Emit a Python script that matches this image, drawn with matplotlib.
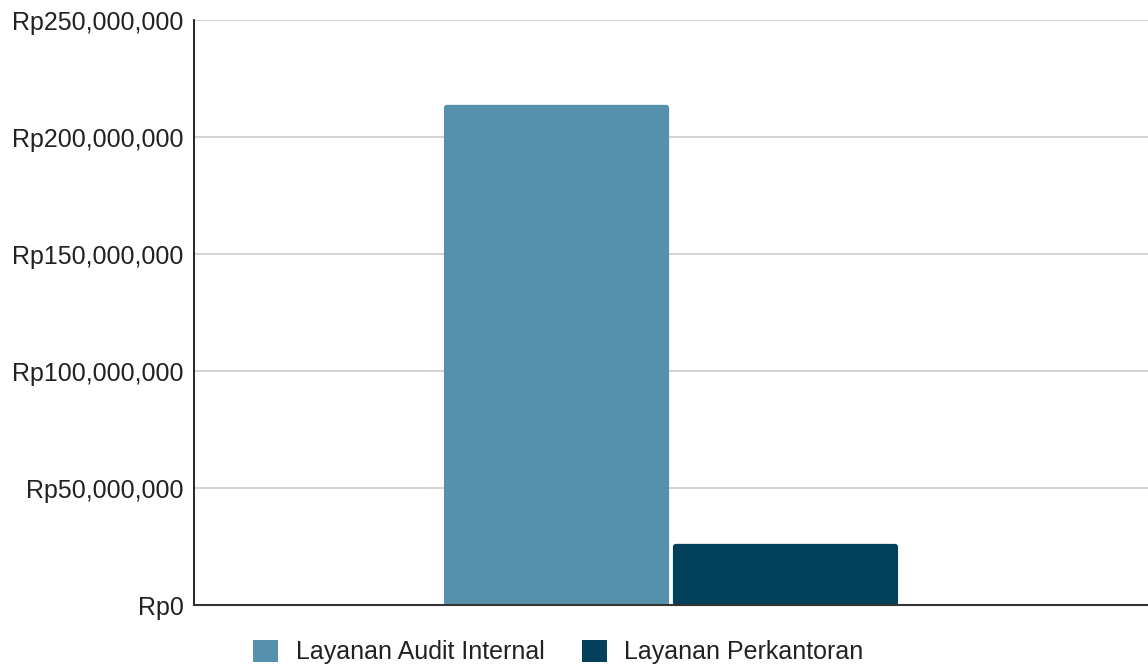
import matplotlib
matplotlib.use("Agg")
import matplotlib.pyplot as plt
from matplotlib.patches import FancyBboxPatch
from matplotlib.ticker import FuncFormatter

plt.rcParams['font.family'] = ['Liberation Sans', 'DejaVu Sans']

# data
series = ['Layanan Audit Internal', 'Layanan Perkantoran']
values = [213800000, 26300000]
colors = ['#5591ad', '#03405c']
yticks = [0, 50000000, 100000000, 150000000, 200000000, 250000000]

fig = plt.figure(figsize=(11.48, 6.69), dpi=100)
ax = fig.add_axes([0.169, 0.095, 0.831, 0.875])
ax.set_xlim(-1, 1)
ax.set_ylim(0, 250000000)

bar_w = 0.472
offsets = [-0.240, 0.240]
# px per data unit, for the small rounded corners
xpx = fig.get_figwidth() * fig.dpi * 0.831 / 2.0
ypx = fig.get_figheight() * fig.dpi * 0.875 / 250000000
for i in range(len(series)):
    bars = ax.bar(offsets[i], values[i], width=bar_w, color=colors[i],
                  label=series[i], linewidth=0, zorder=3)
    r = bars[0]
    r.set_visible(False)
    fb = FancyBboxPatch((r.get_x(), r.get_y()), r.get_width(), r.get_height(),
                        boxstyle='round,pad=0,rounding_size=%f' % (3.0 / xpx),
                        mutation_aspect=xpx / ypx, facecolor=colors[i],
                        linewidth=0, zorder=3)
    ax.add_patch(fb)

ax.set_yticks(yticks)
ax.yaxis.set_major_formatter(FuncFormatter(lambda v, p: 'Rp{:,.0f}'.format(v)))
ax.set_xticks([])
ax.tick_params(axis='y', length=0, labelsize=18, pad=7.5, labelcolor='#222222')
ax.grid(axis='y', color='#cccccc', linewidth=1.2, zorder=0)

for s in ['top', 'right']:
    ax.spines[s].set_visible(False)
ax.spines['left'].set_color('#000000')
ax.spines['left'].set_linewidth(1.2)
ax.spines['bottom'].set_color('#333333')
ax.spines['bottom'].set_linewidth(1.5)
ax.spines['bottom'].set_zorder(4)

leg = ax.legend(loc='upper center', bbox_to_anchor=(0.382, -0.02), ncol=2, frameon=False,
                fontsize=18, handlelength=1.0, handleheight=1.0, handletextpad=0.7,
                columnspacing=1.5, labelcolor='#222222')
for h, c in zip(leg.legend_handles, colors):
    h.set_facecolor(c)
    h.set_visible(True)

fig.savefig('out.png', dpi=100)
